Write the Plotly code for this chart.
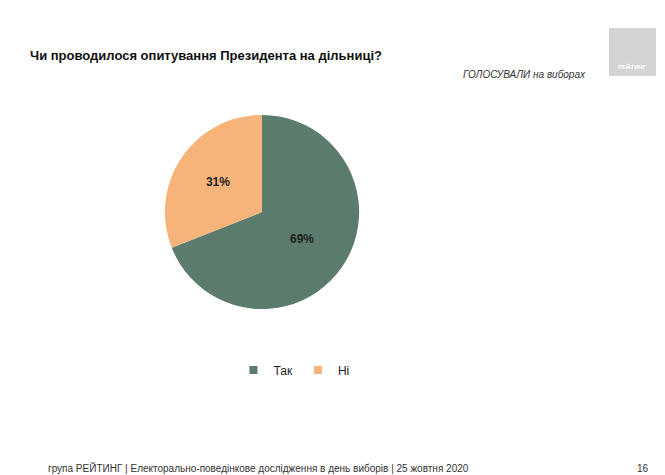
import plotly.graph_objects as go

labels = ["Так", "Ні"]
values = [69, 31]
colors = ["#5b7b6c", "#f7b47a"]

fig = go.Figure(go.Pie(
    labels=labels, values=values, sort=False, direction="clockwise", rotation=0,
    marker=dict(colors=colors), texttemplate="<b>%{value}%</b>", textposition="inside",
    textfont=dict(family="Liberation Sans", size=12, color="#222"),
    insidetextorientation="horizontal", showlegend=False,
    domain=dict(x=[0.236, 0.528], y=[0.366, 0.775]),
))
for i, (lab, col) in enumerate(zip(labels, colors)):
    fig.add_trace(go.Scatter(x=[None], y=[None], mode="markers", name=lab,
                             marker=dict(color=col, symbol="square", size=8)))

fig.update_layout(
    width=665, height=475, margin=dict(l=0, r=0, t=0, b=0),
    paper_bgcolor="white", plot_bgcolor="white",
    xaxis=dict(visible=False), yaxis=dict(visible=False),
    font=dict(family="Liberation Sans", color="#222"),
    legend=dict(orientation="h", x=0.43, y=0.238, xanchor="center", yanchor="middle",
                font=dict(size=12), itemwidth=30, traceorder="normal"),
    annotations=[
        dict(text="<b>Чи проводилося опитування Президента на дільниці?</b>", x=20/665, y=1-47/475,
             xref="paper", yref="paper", xanchor="left", yanchor="middle", showarrow=False,
             font=dict(size=13, color="#111")),
        dict(text="<i>ГОЛОСУВАЛИ на виборах</i>", x=580/665, y=1-67/475, xref="paper", yref="paper",
             xanchor="right", yanchor="middle", showarrow=False, font=dict(size=10, color="#333")),
        dict(text="<b>РЕЙТИНГ</b>", x=624/665, y=1-59/475, xref="paper", yref="paper",
             xanchor="center", yanchor="middle", showarrow=False, font=dict(size=6, color="white")),
        dict(text="група РЕЙТИНГ | Електорально-поведінкове дослідження в день виборів | 25 жовтня 2020",
             x=38/665, y=1-460/475, xref="paper", yref="paper", xanchor="left", yanchor="middle",
             showarrow=False, font=dict(size=10, color="#333")),
        dict(text="16", x=643/665, y=1-460/475, xref="paper", yref="paper", xanchor="right",
             yanchor="middle", showarrow=False, font=dict(size=10, color="#333")),
    ],
    shapes=[dict(type="rect", xref="paper", yref="paper", x0=601/665, x1=648/665,
                 y0=1-68/475, y1=1-20/475, fillcolor="#d4d4d4", line=dict(width=0), layer="below")],
)
fig.write_html("out.html")
